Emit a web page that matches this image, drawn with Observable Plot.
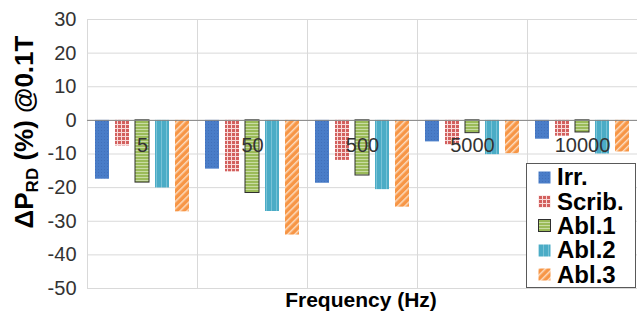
<!DOCTYPE html>
<html>
<head>
<meta charset="utf-8">
<script src="https://cdn.jsdelivr.net/npm/d3@7"></script>
<script src="https://cdn.jsdelivr.net/npm/@observablehq/plot@0.6"></script>
<style>
  html, body { margin: 0; padding: 0; background: #fff; }
  #wrap { position: relative; width: 637px; height: 311px; font-family: "Liberation Sans", Arial, sans-serif; }
  #legend { position: absolute; left: 526px; top: 163px; width: 110px; height: 125px; background: #fff;
            border: 1px solid #595959; box-sizing: border-box; padding-top: 1px; }
  .item { display: flex; align-items: center; height: 24.4px; font-weight: bold; font-size: 24px; color: #000; }
  .item svg { margin-left: 11px; margin-right: 6px; flex: none; }
</style>
</head>
<body>
<div id="wrap"></div>
<script>
// ---- data ----
const freqs = ["5", "50", "500", "5000", "10000"];
const series = ["Irr.", "Scrib.", "Abl.1", "Abl.2", "Abl.3"];
const irr   = [-17.5, -14.5, -18.7, -6.4, -5.6];
const scrib = [-7.6, -15.3, -11.9, -7.4, -4.7];
const abl1  = [-18.5, -21.6, -16.4, -3.8, -3.6];
const abl2  = [-20.1, -27.1, -20.6, -10.2, -10.0];
const abl3  = [-27.2, -34.1, -25.8, -9.9, -9.4];
const yTicks = [-50, -40, -30, -20, -10, 0, 10, 20, 30];

const values = [irr, scrib, abl1, abl2, abl3];
const patId = {"Irr.": "pIrr", "Scrib.": "pScrib", "Abl.1": "pAbl1", "Abl.2": "pAbl2", "Abl.3": "pAbl3"};
const rows = freqs.flatMap((f, i) => series.map((s, j) => ({freq: f, series: s, value: values[j][i]})));

const chart = Plot.plot({
  width: 637, height: 311,
  marginLeft: 86, marginRight: 0, marginTop: 19, marginBottom: 23,
  style: {fontFamily: "Liberation Sans, Arial, sans-serif", fontSize: "20px", color: "#333", background: "#fff"},
  fx: {domain: freqs, padding: 0, axis: null},
  x: {domain: series, padding: 0.3, axis: null},
  y: {domain: [-50, 30], ticks: yTicks, tickSize: 0, tickPadding: 11, label: null, tickFormat: d => String(d)},
  color: {type: "identity"},
  marks: [
    Plot.ruleY(yTicks, {stroke: "#d9d9d9"}),
    Plot.frame({stroke: "#d9d9d9"}),
    Plot.barY(rows, {
      fx: "freq", x: "series", y: "value",
      fill: d => `url(#${patId[d.series]})`,
      stroke: d => d.series === "Abl.1" ? "#2f2f2f" : "none",
      strokeWidth: 1
    }),
    Plot.ruleY([0], {stroke: "#868686"}),
    Plot.text(freqs, {fx: d => d, y: () => 0, text: d => d, dy: 25, lineAnchor: "middle",
                      fontSize: 20, fill: "#333"})
  ]
});

const defs = `
<pattern id="pIrr" patternUnits="userSpaceOnUse" width="3" height="3">
  <rect width="3" height="3" fill="#4a7dc8"/><rect x="1" y="1" width="1" height="1" fill="#4170ba"/>
</pattern>
<pattern id="pScrib" patternUnits="userSpaceOnUse" width="4" height="4">
  <rect width="4" height="4" fill="#f8dad9"/><rect x="1" y="1" width="3" height="3" fill="#d2605e"/>
</pattern>
<pattern id="pAbl1" patternUnits="userSpaceOnUse" width="4" height="3">
  <rect width="4" height="3" fill="#9bbb59"/><rect y="0" width="4" height="1" fill="#c9dca4"/>
</pattern>
<pattern id="pAbl2" patternUnits="userSpaceOnUse" width="5" height="4">
  <rect width="5" height="4" fill="#4bacc6"/><rect x="0" width="1" height="4" fill="#79c2d6"/>
</pattern>
<pattern id="pAbl3" patternUnits="userSpaceOnUse" width="5" height="5" patternTransform="rotate(45)">
  <rect width="5" height="5" fill="#f79646"/><rect x="0" width="1.5" height="5" fill="#fcdcc0"/>
</pattern>`;
const svg = d3.select(chart);
svg.insert("defs", ":first-child").html(defs);

// y-axis title with subscript
const yt = svg.append("text")
  .attr("transform", "translate(33,132) rotate(-90)")
  .attr("text-anchor", "middle")
  .attr("font-weight", "bold").attr("font-size", 26).attr("fill", "#000");
yt.append("tspan").text("ΔP");
yt.append("tspan").attr("font-size", 17).attr("dy", 5).text("RD");
yt.append("tspan").attr("dy", -5).text(" (%) @0.1T");

// x-axis title
svg.append("text")
  .attr("x", 361).attr("y", 307)
  .attr("text-anchor", "middle")
  .attr("font-weight", "bold").attr("font-size", 21).attr("fill", "#000")
  .text("Frequency (Hz)");

const wrap = document.getElementById("wrap");
wrap.appendChild(chart);

// legend
const legend = document.createElement("div");
legend.id = "legend";
series.forEach(s => {
  const it = document.createElement("div");
  it.className = "item";
  const stroke = s === "Abl.1" ? ' stroke="#2f2f2f" stroke-width="1"' : '';
  it.innerHTML = `<svg width="13" height="13"><rect x="0.5" y="0.5" width="12" height="12" fill="url(#${patId[s]})"${stroke}/></svg><span>${s}</span>`;
  legend.appendChild(it);
});
wrap.appendChild(legend);
</script>
</body>
</html>
